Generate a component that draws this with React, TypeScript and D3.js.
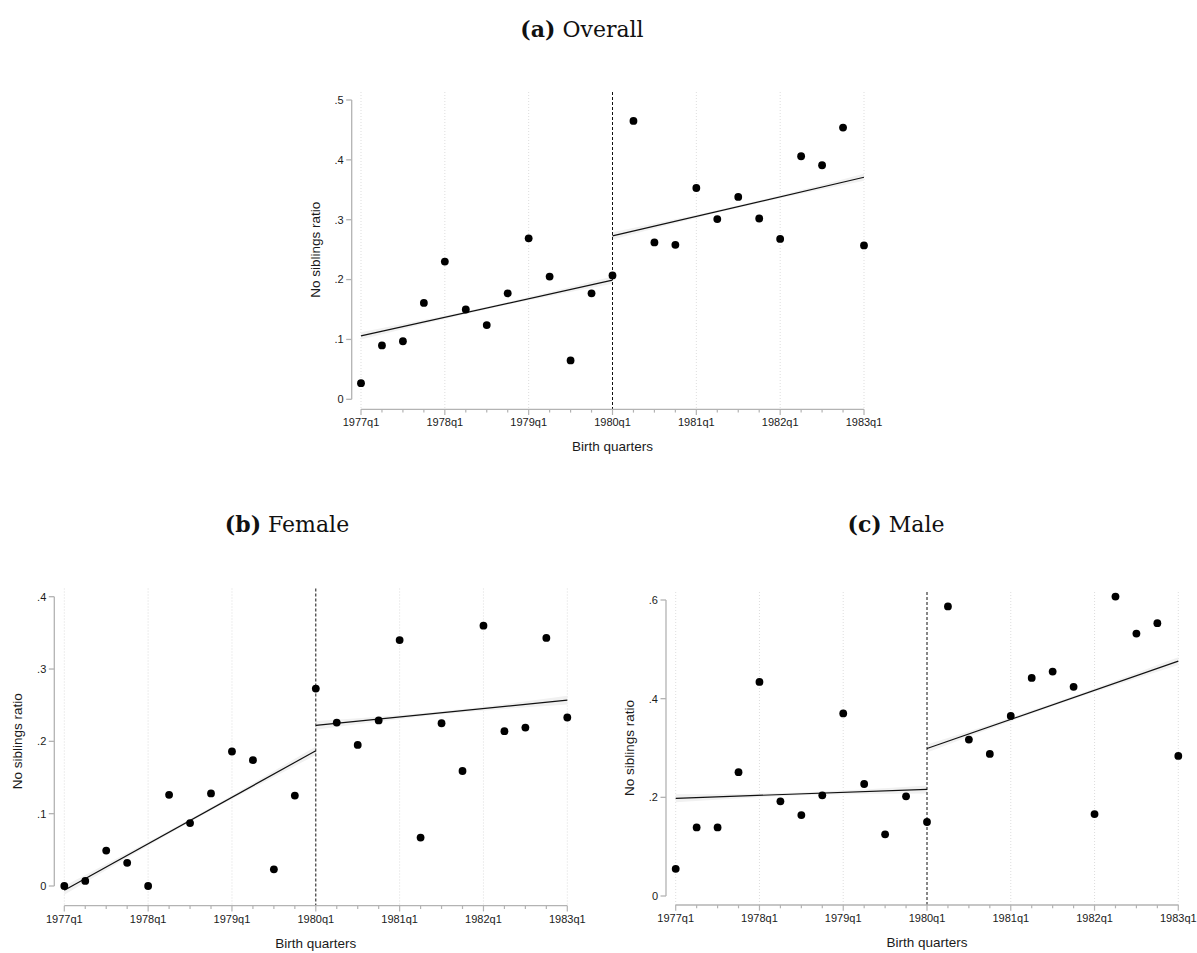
import React from 'react';
import * as d3 from 'd3';

// birth quarters on the x axis
const quarters = [
  '1977q1', '1977q2', '1977q3', '1977q4',
  '1978q1', '1978q2', '1978q3', '1978q4',
  '1979q1', '1979q2', '1979q3', '1979q4',
  '1980q1', '1980q2', '1980q3', '1980q4',
  '1981q1', '1981q2', '1981q3', '1981q4',
  '1982q1', '1982q2', '1982q3', '1982q4',
  '1983q1',
];
const xTickLabels = ['1977q1', '1978q1', '1979q1', '1980q1', '1981q1', '1982q1', '1983q1'];
const cutoff = '1980q1';

// no siblings ratio, one value per quarter
const overallRatio = [
  0.027, 0.090, 0.097, 0.161, 0.230, 0.150, 0.124, 0.177, 0.269, 0.205, 0.065, 0.177,
  0.207, 0.465, 0.262, 0.258, 0.353, 0.301, 0.338, 0.302, 0.268, 0.406, 0.391, 0.454, 0.257,
];
const femaleRatio = [
  0.000, 0.007, 0.049, 0.032, 0.000, 0.126, 0.087, 0.128, 0.186, 0.174, 0.023, 0.125,
  0.273, 0.226, 0.195, 0.229, 0.340, 0.067, 0.225, 0.159, 0.360, 0.214, 0.219, 0.343, 0.233,
];
const maleRatio = [
  0.055, 0.139, 0.139, 0.251, 0.434, 0.192, 0.164, 0.204, 0.370, 0.227, 0.125, 0.202,
  0.150, 0.587, 0.317, 0.288, 0.365, 0.442, 0.455, 0.424, 0.166, 0.607, 0.532, 0.553, 0.284,
];

// fitted values at the start and end of each segment (before / after cutoff)
const overallFit = [[0.106, 0.199], [0.273, 0.371]];
const femaleFit = [[-0.006, 0.187], [0.222, 0.257]];
const maleFit = [[0.198, 0.216], [0.299, 0.476]];

// half width of the faint confidence band at start, middle, end of each segment
const overallCi = [[0.006, 0.002, 0.006], [0.006, 0.002, 0.006]];
const femaleCi = [[0.006, 0.002, 0.006], [0.006, 0.002, 0.006]];
const maleCi = [[0.008, 0.003, 0.008], [0.008, 0.003, 0.008]];

const overallYTicks = [0, 0.1, 0.2, 0.3, 0.4, 0.5];
const femaleYTicks = [0, 0.1, 0.2, 0.3, 0.4];
const maleYTicks = [0, 0.2, 0.4, 0.6];

const W = 1197;
const H = 953;
const sans = '"Liberation Sans", Arial, Helvetica, sans-serif';
const serif = '"DejaVu Serif", "Liberation Serif", serif';
const axisColor = '#b3b3b3';
const textColor = '#1a1a1a';

const fmtTick = (v: number) => (v === 0 ? '0' : d3.format('.1f')(v).replace(/^0\./, '.').replace(/^-0\./, '-.'));

type Layout = {
  x0: number; x1: number; zeroY: number; topTickY: number; plotTop: number; axisY: number; yAxisX: number;
};

const Panel = ({ ratio, fit, ci, yTicks, layout }: {
  ratio: number[]; fit: number[][]; ci: number[][]; yTicks: number[]; layout: Layout;
}) => {
  const x = d3.scaleLinear().domain([0, quarters.length - 1]).range([layout.x0, layout.x1]);
  const y = d3.scaleLinear().domain([0, yTicks[yTicks.length - 1]]).range([layout.zeroY, layout.topTickY]);
  const cut = quarters.indexOf(cutoff);
  const segs = [[0, cut], [cut, quarters.length - 1]];

  const line = d3.line<[number, number]>().x(d => x(d[0])).y(d => y(d[1]));
  const band = d3.area<[number, number, number]>()
    .x(d => x(d[0]))
    .y0(d => y(d[1] - d[2]))
    .y1(d => y(d[1] + d[2]))
    .curve(d3.curveNatural);

  const majorIdx = xTickLabels.map(l => quarters.indexOf(l));
  const cx = (layout.x0 + layout.x1) / 2;
  const cy = (layout.zeroY + layout.topTickY) / 2;

  return (
    <g>
      {/* yearly grid */}
      {majorIdx.filter(i => i !== cut).map(i => (
        <line key={'g' + i} x1={x(i)} x2={x(i)} y1={layout.plotTop} y2={layout.axisY}
          stroke="#d4d4d4" strokeWidth={0.8} strokeDasharray="1,2" />
      ))}

      {/* confidence bands and fit lines */}
      {segs.map((s, k) => {
        const [a, b] = s;
        const m = (a + b) / 2;
        const fm = (fit[k][0] + fit[k][1]) / 2;
        const pts: [number, number, number][] = [
          [a, fit[k][0], ci[k][0]], [m, fm, ci[k][1]], [b, fit[k][1], ci[k][2]],
        ];
        return <path key={'b' + k} d={band(pts) || ''} fill="#f1f1f1" />;
      })}
      {segs.map((s, k) => (
        <path key={'f' + k} d={line([[s[0], fit[k][0]], [s[1], fit[k][1]]]) || ''}
          fill="none" stroke="#111" strokeWidth={1.2} />
      ))}

      {/* cutoff */}
      <line x1={x(cut)} x2={x(cut)} y1={layout.plotTop} y2={layout.axisY}
        stroke="#111" strokeWidth={1} strokeDasharray="3,2" />

      {/* points */}
      {ratio.map((v, i) => (
        <circle key={'p' + i} cx={x(i)} cy={y(v)} r={3.9} fill="#000" />
      ))}

      {/* y axis */}
      <line x1={layout.yAxisX} x2={layout.yAxisX} y1={y(yTicks[0])} y2={y(yTicks[yTicks.length - 1])}
        stroke={axisColor} strokeWidth={1.3} />
      {yTicks.map(t => (
        <g key={'y' + t}>
          <line x1={layout.yAxisX - 5.5} x2={layout.yAxisX} y1={y(t)} y2={y(t)} stroke={axisColor} strokeWidth={1.3} />
          <text x={layout.yAxisX - 8} y={y(t)} dy="0.35em" textAnchor="end" fontFamily={sans} fontSize={11} fill={textColor}>
            {fmtTick(t)}
          </text>
        </g>
      ))}
      <text transform={`translate(${layout.yAxisX - 32},${cy}) rotate(-90)`} textAnchor="middle"
        fontFamily={sans} fontSize={13.5} fill={textColor}>No siblings ratio</text>

      {/* x axis */}
      <line x1={x(0)} x2={x(quarters.length - 1)} y1={layout.axisY} y2={layout.axisY} stroke={axisColor} strokeWidth={1.3} />
      {quarters.map((q, i) => (
        <line key={'t' + i} x1={x(i)} x2={x(i)} y1={layout.axisY}
          y2={layout.axisY + (majorIdx.includes(i) ? 5.7 : 3.3)} stroke={axisColor} strokeWidth={1.2} />
      ))}
      {majorIdx.map((i, k) => (
        <text key={'xl' + i} x={x(i)} y={layout.axisY + 17} textAnchor="middle" fontFamily={sans} fontSize={11} fill={textColor}>
          {xTickLabels[k]}
        </text>
      ))}
      <text x={cx} y={layout.axisY + 42} textAnchor="middle" fontFamily={sans} fontSize={13.5} fill={textColor}>Birth quarters</text>
    </g>
  );
};

const Title = ({ x, y, tag, label }: { x: number; y: number; tag: string; label: string }) => (
  <text x={x} y={y} textAnchor="middle" fontFamily={serif} fontSize={22} fill="#111">
    <tspan fontWeight="bold">{tag}</tspan>
    <tspan>{' ' + label}</tspan>
  </text>
);

const App = () => {
  return (
    <svg width={W} height={H} style={{ position: 'absolute', left: 0, top: 0, background: '#fff' }}>
      <Title x={582} y={37} tag="(a)" label="Overall" />
      <Panel ratio={overallRatio} fit={overallFit} ci={overallCi} yTicks={overallYTicks}
        layout={{ x0: 361, x1: 864, zeroY: 399.3, topTickY: 100, plotTop: 92, axisY: 409.3, yAxisX: 351.7 }} />

      <Title x={287} y={532} tag="(b)" label="Female" />
      <Panel ratio={femaleRatio} fit={femaleFit} ci={femaleCi} yTicks={femaleYTicks}
        layout={{ x0: 64.3, x1: 567.3, zeroY: 886, topTickY: 596.7, plotTop: 588.5, axisY: 905.7, yAxisX: 54.3 }} />

      <Title x={896} y={532} tag="(c)" label="Male" />
      <Panel ratio={maleRatio} fit={maleFit} ci={maleCi} yTicks={maleYTicks}
        layout={{ x0: 675.7, x1: 1178.3, zeroY: 896, topTickY: 600, plotTop: 592, axisY: 905, yAxisX: 666 }} />
    </svg>
  );
};

export default App;
